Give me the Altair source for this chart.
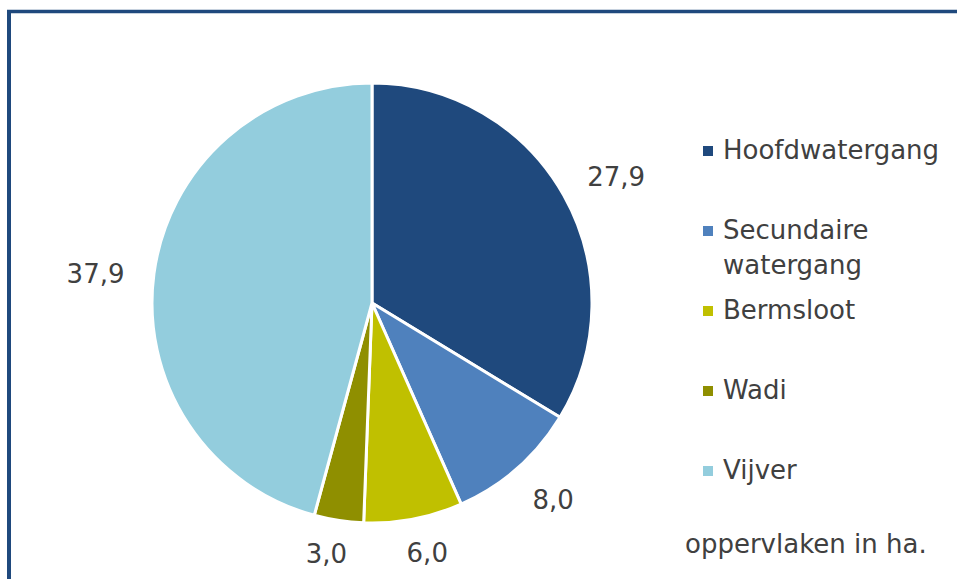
import altair as alt
import pandas as pd

categories = ["Hoofdwatergang", "Secundaire watergang", "Bermsloot", "Wadi", "Vijver"]
values = [27.9, 8.0, 6.0, 3.0, 37.9]
colors = ["#1F497D", "#4F81BD", "#C0C000", "#8F8F00", "#93CDDD"]
note = "oppervlaken in ha."

df = pd.DataFrame({
    "cat": categories,
    "value": values,
    "idx": list(range(len(categories))),
    "label": [f"{v:.1f}".replace(".", ",") for v in values],
})

FONT = "DejaVu Sans"
TXT = "#404040"
FRAME = "#1F497D"
R = 220

arcs = alt.Chart(df).mark_arc(outerRadius=R, stroke="white", strokeWidth=3).encode(
    theta=alt.Theta("value:Q", stack=True),
    order=alt.Order("idx:Q", sort="ascending"),
    color=alt.Color(
        "cat:N",
        scale=alt.Scale(domain=categories, range=colors),
        sort=categories,
        legend=alt.Legend(
            title=None,
            orient="none",
            legendX=695,
            legendY=111,
            symbolType="square",
            symbolSize=100,
            symbolStrokeWidth=0,
            labelFont=FONT,
            labelFontSize=26,
            labelColor=TXT,
            labelLimit=400,
            labelOffset=2,
            rowPadding=19,
            labelExpr="datum.label == 'Secundaire watergang' ? ['Secundaire', 'watergang'] : [datum.label, ' ']",
        ),
    ),
)

# label placement outside the slice edge, like an "outside end" data label
labels = (
    alt.Chart(df)
    .transform_joinaggregate(total="sum(value)")
    .transform_window(cum="sum(value)", sort=[alt.SortField("idx")], frame=[None, 0])
    .transform_calculate(
        mid="(datum.cum - datum.value / 2) / datum.total * 2 * PI",
        r0=f"{R} + 22 + abs(sin(datum.mid)) * length(datum.label) * 7.2 + abs(cos(datum.mid)) * 10",
    )
    .transform_calculate(
        px="datum.r0 * sin(datum.mid) + (sin(datum.mid) > 0 ? 7 : -7)",
        py="-datum.r0 * cos(datum.mid) + (cos(datum.mid) > 0 ? 8 : 0)",
    )
    .transform_calculate(
        th="atan2(datum.px, -datum.py) < 0 ? atan2(datum.px, -datum.py) + 2 * PI : atan2(datum.px, -datum.py)",
        rr="sqrt(datum.px * datum.px + datum.py * datum.py)",
    )
    .mark_text(font=FONT, fontSize=26, color=TXT, align="center", baseline="middle")
    .encode(
        text="label:N",
        theta=alt.Theta("th:Q", scale=None, stack=None),
        radius=alt.Radius("rr:Q", scale=None),
    )
)

note_df = pd.DataFrame({"t": [note]})
note_mark = alt.Chart(note_df).mark_text(
    font=FONT, fontSize=26, color=TXT, align="left", baseline="middle"
).encode(text="t:N", x=alt.value(685), y=alt.value(518))

frame_top = alt.Chart(note_df).mark_rule(color=FRAME, strokeWidth=3.5).encode(
    x=alt.value(7), x2=alt.value(960), y=alt.value(-15.5)
)
frame_left = alt.Chart(note_df).mark_rule(color=FRAME, strokeWidth=4).encode(
    x=alt.value(9), y=alt.value(-17), y2=alt.value(560)
)

chart = alt.layer(arcs, labels, note_mark, frame_top, frame_left).properties(
    width=744,
    height=552,
    padding={"left": 0, "top": 27, "right": 213, "bottom": 0},
    autosize="none",
    background="white",
).configure(
    style={"guide-label": {"lineHeight": 35}},
    view=alt.ViewConfig(stroke=None),
)

chart.save("out.html", embed_options={"renderer": "svg", "actions": False})
